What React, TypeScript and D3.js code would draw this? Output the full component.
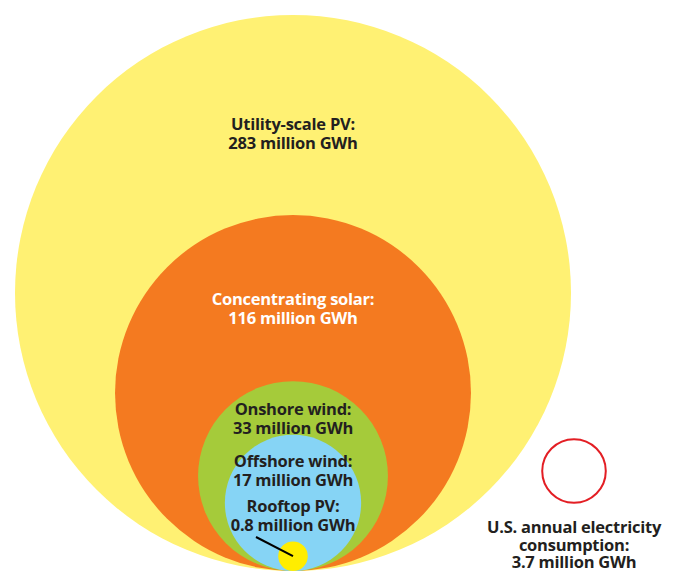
import React from "react";
import * as d3 from "d3";

const labels = ["Utility-scale PV:", "Concentrating solar:", "Onshore wind:", "Offshore wind:", "Rooftop PV:"];
const values = [283, 116, 33, 17, 0.8];
const valueLabels = ["283 million GWh", "116 million GWh", "33 million GWh", "17 million GWh", "0.8 million GWh"];
const fills = ["#FFF173", "#F47A20", "#A5CB3A", "#86D4F5", "#FFED00"];
const textColors = ["#231F20", "#FFFFFF", "#231F20", "#231F20", "#231F20"];
const consumptionValue = 3.7;
const consumptionLabel = ["U.S. annual electricity", "consumption:", "3.7 million GWh"];

const W = 675;
const H = 572;

export default function App() {
  const r = d3.scaleSqrt().domain([0, 283]).range([0, 278]);
  const cx = 293;
  const baseY = 571;
  const labelY = [130, 305, 415, 467, 512];
  const lineH = 18.5;
  const font = "'Open Sans', sans-serif";
  const fs = 16.5;
  const ls = -0.25;
  const rc = r(consumptionValue);
  const rx = 574;
  const ry = 471;
  const rSmall = r(values[4]);
  return (
    <svg width={W} height={H} style={{ position: "absolute", left: 0, top: 0, background: "#fff" }}>
      {values.map((v, i) => (
        <circle key={i} cx={cx} cy={baseY - r(v)} r={r(v)} fill={fills[i]} />
      ))}
      <line x1={256} y1={537} x2={cx} y2={baseY - rSmall} stroke="#000" strokeWidth={2} />
      {labels.map((l, i) => (
        <text
          key={i}
          x={cx}
          y={labelY[i]}
          textAnchor="middle"
          fontFamily={font}
          fontWeight={700}
          fontSize={fs}
          letterSpacing={ls}
          fill={textColors[i]}
        >
          <tspan x={cx}>{l}</tspan>
          <tspan x={cx} dy={lineH}>{valueLabels[i]}</tspan>
        </text>
      ))}
      <circle cx={rx} cy={ry} r={rc} fill="none" stroke="#E31E24" strokeWidth={2} />
      <text x={rx} y={533} textAnchor="middle" fontFamily={font} fontWeight={700} fontSize={fs} letterSpacing={ls} fill="#231F20">
        {consumptionLabel.map((t, i) => (
          <tspan key={i} x={rx} dy={i === 0 ? 0 : 17.5}>{t}</tspan>
        ))}
      </text>
    </svg>
  );
}
